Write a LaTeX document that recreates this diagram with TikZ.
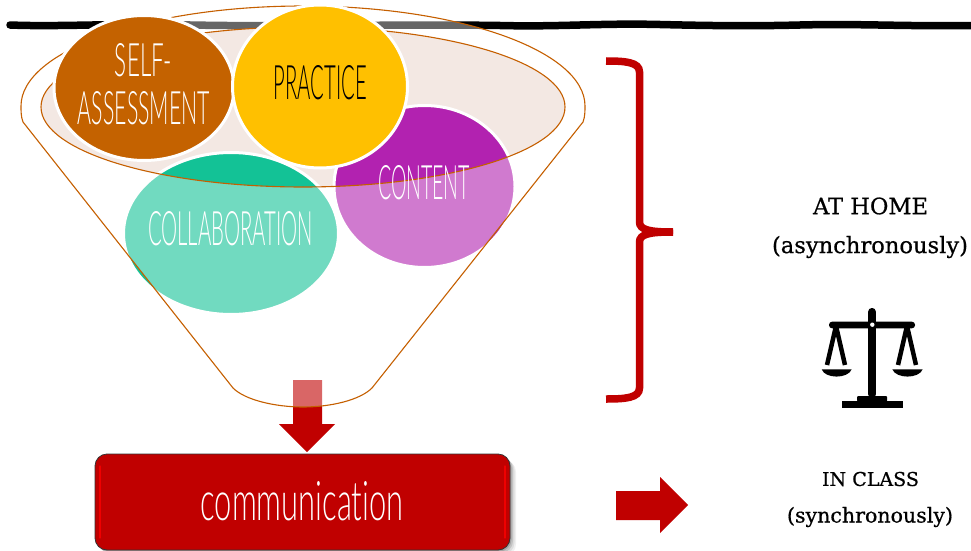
\documentclass[tikz,border=0pt]{standalone}
\usepackage{fontspec}
\usetikzlibrary{shapes.geometric}
\newfontfamily\handfont[Ligatures={NoCommon,NoRare}]{Lato Light}
\newfontfamily\slabfont[FakeBold=0.6]{DejaVu Serif}
\definecolor{orangeline}{HTML}{C55F00}
\definecolor{ringfill}{HTML}{F3E8E3}
\definecolor{selfcol}{HTML}{C46200}
\definecolor{praccol}{HTML}{FFC000}
\definecolor{contcol}{HTML}{B222B0}
\definecolor{collcol}{HTML}{13C296}
\definecolor{redcol}{HTML}{C00000}
\tikzset{
  bubble/.style={ellipse,draw=white,line width=3pt,inner sep=0pt,outer sep=0pt},
  lab/.style={inner sep=0pt,text=white},
  slab/.style={inner sep=0pt,text=black},
  scaleink/.style={fill=black,draw=none}
}
\def\funnelpath{(233,388) -- (23,122) .. controls (21,117) and (21,111) .. (21,106) .. controls (21,50.8) and (147.3,6) .. (303,6) .. controls (458.7,6) and (585,50.8) .. (585,106) .. controls (585,111) and (585,117) .. (583,122) -- (372,388) .. controls (360,400) and (331,407) .. (303,407) .. controls (275,407) and (245,400) .. (233,388) -- cycle}
\def\ringpath{(41,107) .. controls (41,62.8) and (158.3,27) .. (303,27) .. controls (447.7,27) and (565,62.8) .. (565,107) .. controls (565,151.2) and (447.7,187) .. (303,187) .. controls (158.3,187) and (41,151.2) .. (41,107) -- cycle}
\begin{document}
\begin{tikzpicture}[x=1pt,y=-1pt]
\useasboundingbox (0,0) rectangle (971,551);
% heavy rule at the top
\draw[line width=7.5pt,line cap=round,black] (10,25) .. controls (60,27) and (120,23) .. (190,25) .. controls (300,27) and (400,24) .. (500,25.5) .. controls (560,27) and (600,23) .. (660,24.5) .. controls (720,26) and (760,26) .. (800,25) .. controls (860,23.5) and (900,26.5) .. (975,25.5);
% ring of the funnel
\fill[ringfill] \ringpath;
% back bubbles
\node[bubble,fill=collcol,minimum width=215pt,minimum height=162pt] (coll) at (231,233.5) {};
\node[bubble,fill=contcol,minimum width=181pt,minimum height=162pt] (cont) at (424.5,186.5) {};
% down arrow
\fill[redcol] (293,380) -- (322,380) -- (322,424) -- (335,424) -- (307,452) -- (279,424) -- (293,424) -- cycle;
% translucent funnel body
\fill[white,fill opacity=.4,even odd rule] \funnelpath \ringpath;
\draw[orangeline,line width=1.1pt] \funnelpath;
\draw[orangeline,line width=1.1pt] \ringpath;
% front bubbles
\node[bubble,fill=selfcol,minimum width=180pt,minimum height=145pt] (self) at (144,88) {};
\node[bubble,fill=praccol,minimum width=175pt,minimum height=163pt] (prac) at (320,86.5) {};
% bubble labels
\node[lab] (tself) at (143.5,60.5) {\resizebox{57pt}{33pt}{\handfont SELF-}};
\node[lab] (tassess) at (144,108.5) {\resizebox{132pt}{33pt}{\handfont ASSESSMENT}};
\node[lab,text=black] (tprac) at (320.5,83) {\resizebox{93pt}{34pt}{\handfont PRACTICE}};
\node[lab] (tcont) at (424,183) {\resizebox{92pt}{34pt}{\handfont CONTENT}};
\node[lab] (tcoll) at (230.5,229) {\resizebox{165pt}{34pt}{\handfont COLLABORATION}};
% communication box
\foreach \s/\o in {6/.06,4.5/.08,3/.12,1.5/.15}{
  \fill[black,fill opacity=\o,rounded corners=12pt] (95+\s,454+\s) rectangle (510+\s,550+\s);
}
\node[draw=black!80,line width=.8pt,fill=redcol,rounded corners=12pt,minimum width=415pt,minimum height=96pt,inner sep=0pt,outer sep=0pt] (comm) at (302.5,502) {};
\draw[red!75!redcol,line width=1.2pt,line cap=round] (100,466) -- (100,538);
\draw[red!75!redcol,line width=1.2pt,line cap=round] (505,466) -- (505,538);
\node[lab] (tcomm) at (302,501.5) {\resizebox{203pt}{39pt}{\handfont communication}};
% right arrow
\fill[redcol] (616,491) -- (660,491) -- (660,477) -- (688,505) -- (660,533) -- (660,520) -- (616,520) -- cycle;
% brace
\draw[redcol,line width=7.5pt] (606,61) .. controls (625,61) and (639.5,62) .. (639.5,72) -- (639.5,222) .. controls (639.5,230) and (650,232) .. (673,232);
\draw[redcol,line width=7.5pt] (606,399) .. controls (625,399) and (639.5,398) .. (639.5,388) -- (639.5,242) .. controls (639.5,234) and (650,232) .. (673,232);
% right-hand texts
\node[slab] (home) at (870.5,206) {\resizebox{115pt}{!}{\slabfont AT HOME}};
\node[slab] (async) at (870,247) {\resizebox{196pt}{!}{\slabfont (asynchronously)}};
\node[slab] (incl) at (870.5,479) {\resizebox{97pt}{!}{\slabfont IN CLASS}};
\node[slab] (sync) at (870,517) {\resizebox{166pt}{!}{\slabfont (synchronously)}};
% balance scale
\fill[scaleink] (842,401) rectangle (903,408.3);
\fill[scaleink,rounded corners=1pt] (857,401.5) -- (857,396) -- (887,396) -- (887,401.5) -- cycle;
\fill[scaleink,rounded corners=3.5pt] (868.2,398) -- (868.2,308) -- (875.8,308) -- (875.8,398) -- cycle;
\fill[scaleink,rounded corners=3pt] (829,321.7) rectangle (915,328.3);
\fill[white] (872.3,324.7) circle (2.2pt);
\draw[black,line width=4.5pt,line join=bevel] (827,365) -- (836,326) -- (845,365);
\draw[black,line width=4.5pt,line join=bevel] (898,365) -- (907,326) -- (916,365);
\fill[scaleink] (821.7,369.3) .. controls (825,379) and (848,379) .. (851.7,369.3) -- cycle;
\fill[scaleink] (892.3,369.3) .. controls (896,379) and (919,379) .. (922.7,369.3) -- cycle;
\end{tikzpicture}
\end{document}
